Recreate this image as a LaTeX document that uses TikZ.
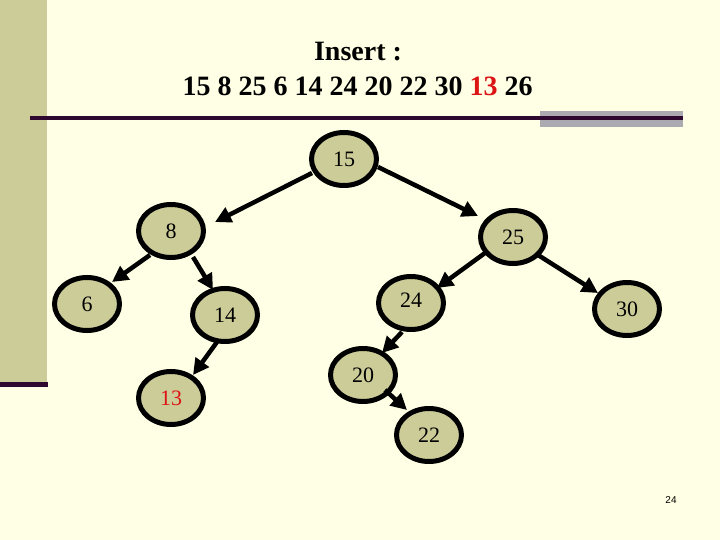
\documentclass[tikz,border=0pt]{standalone}
\usepackage{fontspec}
\setmainfont{Liberation Serif}
\newfontfamily\pgnum{Liberation Sans}
\usetikzlibrary{shapes.geometric,arrows.meta,calc}
\definecolor{bgc}{RGB}{255,255,229}
\definecolor{khaki}{RGB}{204,204,153}
\definecolor{darkp}{RGB}{46,8,46}
\definecolor{greyr}{RGB}{170,170,176}
\definecolor{redt}{RGB}{220,20,20}
\tikzset{
  tnode/.style={ellipse,draw=black,fill=khaki,line width=5pt,minimum width=65pt,minimum height=53pt,inner sep=0pt,font=\fontsize{22}{22}\selectfont},
  arr/.style={line width=4.5pt,-{Triangle[length=16pt,width=16pt]}},
  ttl/.style={font=\fontsize{28}{28}\selectfont\bfseries},
}
\begin{document}
\begin{tikzpicture}[x=1pt,y=-1pt]
\useasboundingbox (0,0) rectangle (720,540);
\fill[bgc] (0,0) rectangle (720,540);
\fill[khaki] (0,0) rectangle (47,382);
\fill[darkp] (0,382) rectangle (48,387);
\fill[greyr] (540,111) rectangle (683,127);
\fill[darkp] (30,116) rectangle (683,120);
\node[ttl] (title1) at (358,52) {Insert :};
\node[ttl] (title2) at (357.5,86) {15 8 25 6 14 24 20 22 30 \textcolor{redt}{13} 26};
\node[tnode] (n15) at (344,159) {15};
\node[tnode] (n8) at (171,231) {8\hspace{12pt}};
\node[tnode] (n6) at (87,304) {6\hspace{6pt}};
\node[tnode] (n14) at (225,315) {14\hspace{12pt}};
\node[tnode,text=redt] (n13) at (171,398) {13};
\node[tnode] (n25) at (513,237) {\raisebox{-4pt}{25}\hspace{8pt}};
\node[tnode] (n24) at (411,303) {\raisebox{5pt}{24}\hspace{4pt}};
\node[tnode] (n30) at (627,309) {\raisebox{-4pt}{30}\hspace{8pt}};
\node[tnode] (n20) at (363,375) {20\hspace{4pt}};
\node[tnode] (n22) at (429,435) {22};
\draw[arr] ($(n15)+(-32,14)$) -- ($(n8)+(44,-9)$);
\draw[arr] ($(n15)+(34,8)$) -- ($(n25)+(-35,-21)$);
\draw[arr] ($(n8)+(-21,24)$) -- ($(n6)+(25,-22)$);
\draw[arr] ($(n8)+(22,26)$) -- ($(n14)+(-12,-25)$);
\draw[arr] ($(n25)+(-28,16)$) -- ($(n24)+(26,-15)$);
\draw[arr] ($(n25)+(25,18)$) -- ($(n30)+(-29,-16)$);
\draw[arr] ($(n24)+(-9,29)$) -- ($(n20)+(19,-22)$);
\draw[arr] ($(n20)+(22,15)$) -- ($(n22)+(-22,-25)$);
\draw[arr] ($(n14)+(-8,27)$) -- ($(n13)+(22,-23)$);
\node[font=\pgnum\fontsize{10}{10}\selectfont] (pg) at (671,500) {24};
\end{tikzpicture}
\end{document}
